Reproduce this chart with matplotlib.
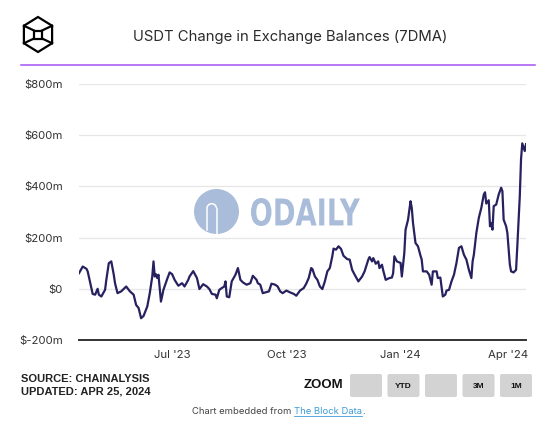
"""USDT change in exchange balances (7DMA) - recreation of The Block Data chart."""

import numpy as np
import pandas as pd
import matplotlib
matplotlib.use("Agg")
import matplotlib.pyplot as plt
from matplotlib.transforms import Affine2D, ScaledTranslation
from matplotlib.patches import Circle, Arc, FancyBboxPatch, Polygon, Rectangle, PathPatch
from matplotlib.lines import Line2D
from matplotlib.textpath import TextPath
from matplotlib.font_manager import FontProperties

W, H = 554, 424

START = "2023-04-17"
# days since START (sampled from the chart) and 7DMA change in $m
DAY = [0, 3, 6, 7, 9, 11, 13, 15, 16, 18, 21, 22, 24, 26, 28, 29, 31, 34, 38, 41,
       44, 46, 48, 50, 52, 54, 55, 57, 59, 60, 61, 62, 63, 64, 66, 68, 71, 73, 75, 77,
       80, 83, 85, 88, 89, 92, 95, 97, 100, 103, 105, 107, 110, 111, 113, 115, 117, 118, 119, 121,
       123, 126, 128, 130, 132, 135, 138, 140, 143, 144, 146, 148, 151, 153, 155, 158, 160, 162, 164, 167,
       170, 173, 175, 178, 181, 183, 185, 187, 188, 190, 192, 194, 196, 198, 200, 202, 204, 205, 207, 209,
       211, 213, 216, 218, 220, 222, 225, 228, 230, 233, 234, 236, 237, 239, 241, 242, 244, 245, 247, 250,
       252, 253, 254, 256, 259, 260, 262, 263, 265, 267, 268, 269, 271, 273, 275, 276, 277, 280, 282, 284,
       285, 288, 289, 291, 293, 295, 296, 298, 300, 302, 304, 306, 308, 310, 312, 314, 316, 317, 318, 320,
       322, 324, 326, 327, 328, 330, 331, 332, 333, 334, 336, 338, 340, 341, 342, 344, 345, 347, 348, 350,
       352, 353, 355, 356, 357, 359, 360]
CHANGE_M = [61, 87, 78, 68, 23, -20, -23, 0, -23, -30, -4, 35, 100, 107, 55, 22, -17, -10, 9, -10,
            -23, -63, -75, -115, -106, -82, -69, -17, 48, 107, 48, 57, 42, 55, -50, -4, 38, 64, 57, 35,
            12, 22, 9, 35, 48, 69, 42, -1, 18, 9, -1, -20, -23, -37, -4, 3, 9, 29, -30, -33,
            29, 55, 81, 35, 25, 16, 22, 51, 35, 22, 16, -17, -13, -10, 20, 16, 9, -10, -17, -7,
            -14, -20, -27, -7, 3, 20, 42, 81, 77, 48, 35, 9, -1, 29, 68, 81, 127, 157, 153, 166,
            156, 129, 116, 114, 74, 55, 29, 48, 68, 114, 124, 107, 120, 98, 107, 81, 94, 72, 35, 42,
            44, 61, 127, 107, 101, 48, 140, 231, 270, 342, 316, 257, 179, 166, 130, 114, 68, 68, 55, 16,
            68, 68, 42, 44, -30, -23, -7, -4, 29, 55, 101, 160, 166, 133, 114, 74, 42, 107, 133, 218,
            277, 316, 368, 377, 333, 346, 244, 257, 231, 323, 329, 368, 395, 381, 270, 244, 218, 94, 68, 64,
            74, 166, 362, 506, 568, 538, 565]

Y_TICKS = [-200, 0, 200, 400, 600, 800]
X_TICKS = ["2023-07-01", "2023-10-01", "2024-01-01", "2024-04-01"]
X_TICK_LABELS = ["Jul '23", "Oct '23", "Jan '24", "Apr '24"]
BUTTONS = ["", "YTD", "", "3M", "1M"]

LINE_COLOR = "#27215f"
TEXT_COLOR = "#333333"
WATERMARK = "#a9bcd9"


def money(v):
    return "$0" if v == 0 else f"${v}m"


def main():
    plt.rcParams["font.family"] = ["Inter", "DejaVu Sans"]
    fig = plt.figure(figsize=(W / 100, H / 100), dpi=100)
    px = Affine2D().scale(1 / W, -1 / H).translate(0, 1) + fig.transFigure

    # --- plot area
    ax = fig.add_axes([79 / W, 1 - 340 / H, 447 / W, 256 / H])
    ax.set_facecolor("none")
    dates = pd.Timestamp(START) + pd.to_timedelta(DAY, unit="D")
    ax.plot(dates, CHANGE_M, color=LINE_COLOR, lw=1.6, zorder=3, solid_joinstyle="round")
    ax.set_xlim(dates[0], dates[-1])
    ax.set_ylim(Y_TICKS[0], Y_TICKS[-1])
    for v in Y_TICKS[1:]:
        ax.axhline(v, color="#e6e6e6", lw=0.9, zorder=1)
    ax.set_yticks(Y_TICKS)
    ax.set_yticklabels([money(v) for v in Y_TICKS])
    ax.set_xticks(pd.to_datetime(X_TICKS))
    ax.set_xticklabels(X_TICK_LABELS)
    ax.tick_params(axis="y", length=0, pad=11.5, labelsize=8.2, labelcolor=TEXT_COLOR)
    ax.tick_params(axis="x", length=0, pad=7, labelsize=8.2, labelcolor=TEXT_COLOR)
    # last label is pulled in so it stays inside the plot edge
    last = ax.get_xticklabels()[-1]
    last.set_transform(last.get_transform() + ScaledTranslation(-6 / 100, 0, fig.dpi_scale_trans))
    for side in ["top", "right", "left"]:
        ax.spines[side].set_visible(False)
    ax.spines["bottom"].set_color("#333333")
    ax.spines["bottom"].set_linewidth(1.4)

    # --- watermark
    cx, cy = 216.5, 211.5
    ax.add_patch(Circle((cx, cy), 22.5, transform=px, color=WATERMARK, lw=0, zorder=2, clip_on=False))
    ax.add_patch(Arc((cx - 4.8, cy - 3), 9.6, 9.6, theta1=180, theta2=360, transform=px,
                     color="white", lw=1.1, zorder=2, clip_on=False))
    ax.add_line(Line2D([cx - 9.6, cx - 9.6], [cy - 3, cy + 18], transform=px, color="white", lw=1.1, zorder=2))
    ax.add_line(Line2D([cx, cx], [cy - 3, cy + 22.5], transform=px, color="white", lw=1.1, zorder=2))
    tp = TextPath((0, 0), "ODAILY", size=1, prop=FontProperties(family="DejaVu Sans", weight="bold"))
    ext = tp.get_extents()
    tr = (Affine2D().translate(-ext.x0, -ext.y0)
          .scale(109 / ext.width, -28 / ext.height).translate(251, 226) + px)
    ax.add_patch(PathPatch(tp, transform=tr, fc=WATERMARK, ec="none", zorder=2, clip_on=False))

    # --- header
    fig.text(290 / W, 1 - 37 / H, "USDT Change in Exchange Balances (7DMA)", ha="center",
             va="center", fontsize=10.7, color="#2b2b2b")
    fig.add_artist(Line2D([21, 535], [64.6, 64.6], transform=px, color="#a552f2", lw=1.1))
    hx, hy, r = 38, 34.5, 17.5
    ang = np.deg2rad([90, 150, 210, 270, 330, 30])
    hexv = np.column_stack([hx + r * 0.93 * np.cos(ang), hy - r * np.sin(ang)])
    fig.add_artist(Polygon(hexv, closed=True, transform=px, fill=False, ec="black", lw=1.6))
    s = 4
    fig.add_artist(Rectangle((hx - s, hy - s), 2 * s, 2 * s, transform=px, fill=False, ec="black", lw=1.6))
    for (vx, vy), (qx, qy) in zip(hexv[[1, 5, 2, 4]], [(hx - s, hy - s), (hx + s, hy - s),
                                                       (hx - s, hy + s), (hx + s, hy + s)]):
        fig.add_artist(Line2D([vx, qx], [vy, qy], transform=px, color="black", lw=1.6))

    # --- footer
    foot = ["Liberation Sans", "DejaVu Sans"]
    fig.text(21 / W, 1 - 378.5 / H, "SOURCE: CHAINALYSIS", family=foot, fontweight="bold",
             fontsize=8, color="#222222", va="center")
    fig.text(21 / W, 1 - 392 / H, "UPDATED: APR 25, 2024", family=foot, fontweight="bold",
             fontsize=8, color="#222222", va="center")
    fig.text(343 / W, 1 - 385.5 / H, "ZOOM", family=foot, fontweight="bold", fontsize=9.5,
             color="#111111", ha="right", va="center")
    for i, label in enumerate(BUTTONS):
        x0 = 350 + i * 37.5
        fig.add_artist(FancyBboxPatch((x0, 374), 32, 23, boxstyle="round,pad=0,rounding_size=2",
                                      transform=px, fc="#d3d3d3", ec="none"))
        if label:
            fig.text((x0 + 16) / W, 1 - 386 / H, label, family=foot, fontweight="bold",
                     fontsize=6, color="#111111", ha="center", va="center")

    # "Chart embedded from The Block Data." centred as one line
    renderer = fig.canvas.get_renderer()
    parts = [("Chart embedded from ", "#444444"), ("The Block Data", "#3d9bd6"), (".", "#444444")]
    texts = [fig.text(0, 1 - 411.5 / H, t, fontsize=6.8, color=c, ha="left", va="center")
             for t, c in parts]
    widths = [t.get_window_extent(renderer).width for t in texts]
    x = 278.6 - sum(widths) / 2
    for t, w in zip(texts, widths):
        t.set_x(x / W)
        x += w
    link_x0 = 278.6 - sum(widths) / 2 + widths[0]
    fig.add_artist(Line2D([link_x0, link_x0 + widths[1]], [416, 416], transform=px,
                          color="#3d9bd6", lw=0.6))

    fig.savefig("out.png", dpi=100)
    plt.close(fig)


if __name__ == "__main__":
    main()
